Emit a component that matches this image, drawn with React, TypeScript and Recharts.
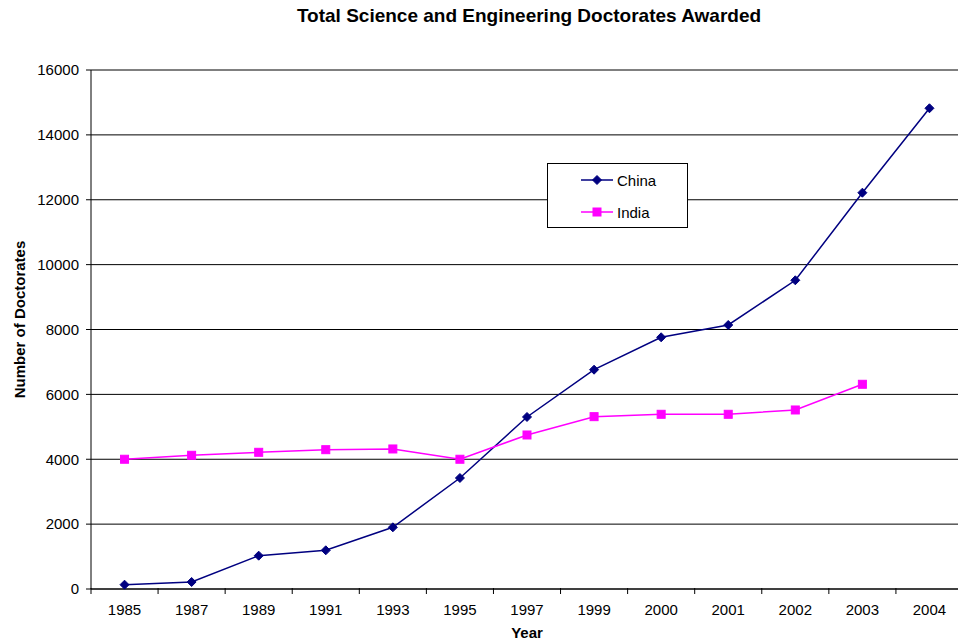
import { CartesianGrid, Label, Line, LineChart, XAxis, YAxis } from "recharts";

// Values.
const years = ["1985", "1987", "1989", "1991", "1993", "1995", "1997", "1999", "2000", "2001", "2002", "2003", "2004"];
const china = [133, 216, 1027, 1193, 1902, 3422, 5303, 6761, 7760, 8139, 9517, 12217, 14820];
const india = [4000, 4122, 4214, 4295, 4317, 4000, 4748, 5313, 5386, 5386, 5519, 6311, null];
const yTicks = [0, 2000, 4000, 6000, 8000, 10000, 12000, 14000, 16000];

const data = years.map((y, i) => ({ year: y, China: china[i], India: india[i] }));

const FONT = "Arial, 'Liberation Sans', sans-serif";
const NAVY = "#000080";
const MAGENTA = "#FF00FF";

const Diamond = (p: any) => {
  const { cx, cy } = p;
  if (cx == null || cy == null) return null;
  return <polygon points={`${cx},${cy - 4.5} ${cx + 4.5},${cy} ${cx},${cy + 4.5} ${cx - 4.5},${cy}`} fill={NAVY} stroke={NAVY} />;
};

const Square = (p: any) => {
  const { cx, cy } = p;
  if (cx == null || cy == null) return null;
  return <rect x={cx - 4} y={cy - 4} width={8} height={8} fill={MAGENTA} stroke={MAGENTA} />;
};

// Excel draws category ticks on the boundaries, labels in the middle.
const YearTick = (p: any) => {
  const { x, y, payload } = p;
  const off = payload.offset ?? 0;
  return (
    <g>
      <line x1={x - off} x2={x - off} y1={y - 9} y2={y - 3} stroke="#000" />
      <text x={x} y={y + 18} textAnchor="middle" fontSize={15} fontFamily={FONT} fill="#000">
        {payload.value}
      </text>
    </g>
  );
};

const LegendBox = () => (
  <div
    style={{
      position: "absolute",
      left: 547,
      top: 163,
      width: 139,
      height: 63,
      border: "1px solid #000",
      background: "#fff",
      fontFamily: FONT,
      fontSize: 15,
    }}
  >
    {[
      { name: "China", color: NAVY, top: 16, Icon: Diamond },
      { name: "India", color: MAGENTA, top: 48, Icon: Square },
    ].map(({ name, color, top, Icon }) => (
      <div key={name} style={{ position: "absolute", left: 32, top: top - 10, height: 20, display: "flex", alignItems: "center" }}>
        <svg width={34} height={20}>
          <line x1={1} x2={33} y1={10} y2={10} stroke={color} strokeWidth={1.5} />
          <Icon cx={17} cy={10} />
        </svg>
        <span style={{ marginLeft: 3 }}>{name}</span>
      </div>
    ))}
  </div>
);

const YTitle = (p: any) => {
  const vb = p.viewBox;
  const cx = 25;
  const cy = vb.y + vb.height / 2 - 10;
  return (
    <text x={cx} y={cy} transform={`rotate(-90 ${cx} ${cy})`} textAnchor="middle" fontFamily={FONT} fontWeight="bold" fontSize={15} fill="#000">
      Number of Doctorates
    </text>
  );
};

export default function App() {
  return (
    <div style={{ position: "fixed", left: 0, top: 0, width: 958, height: 644, overflow: "hidden", background: "#fff" }}>
      <div
        style={{
          position: "absolute",
          top: 5,
          left: 0,
          width: 1058,
          textAlign: "center",
          fontFamily: FONT,
          fontWeight: "bold",
          fontSize: 19,
        }}
      >
        Total Science and Engineering Doctorates Awarded
      </div>
      <LineChart width={970} height={644} data={data} margin={{ top: 70, right: 7, bottom: 0, left: 0 }}>
        <CartesianGrid vertical={false} stroke="#000" strokeWidth={1} />
        <XAxis
          dataKey="year"
          scale="band"
          height={55}
          stroke="#000"
          tickLine={false}
          tick={<YearTick />}
          interval={0}
        >
          <Label value="Year" position="insideBottom" offset={6} style={{ fontFamily: FONT, fontWeight: "bold", fontSize: 15, fill: "#000" }} />
        </XAxis>
        <YAxis
          width={91}
          domain={[0, 16000]}
          ticks={yTicks}
          interval={0}
          stroke="#000"
          tickSize={5}
          tickMargin={7}
          tick={{ fontSize: 15, fontFamily: FONT, fill: "#000" }}
        >
          <Label content={<YTitle />} />
        </YAxis>
        <Line dataKey="China" stroke={NAVY} strokeWidth={1.5} dot={<Diamond />} activeDot={false} isAnimationActive={false} />
        <Line dataKey="India" stroke={MAGENTA} strokeWidth={1.5} dot={<Square />} activeDot={false} isAnimationActive={false} />
      </LineChart>
      <LegendBox />
    </div>
  );
}
